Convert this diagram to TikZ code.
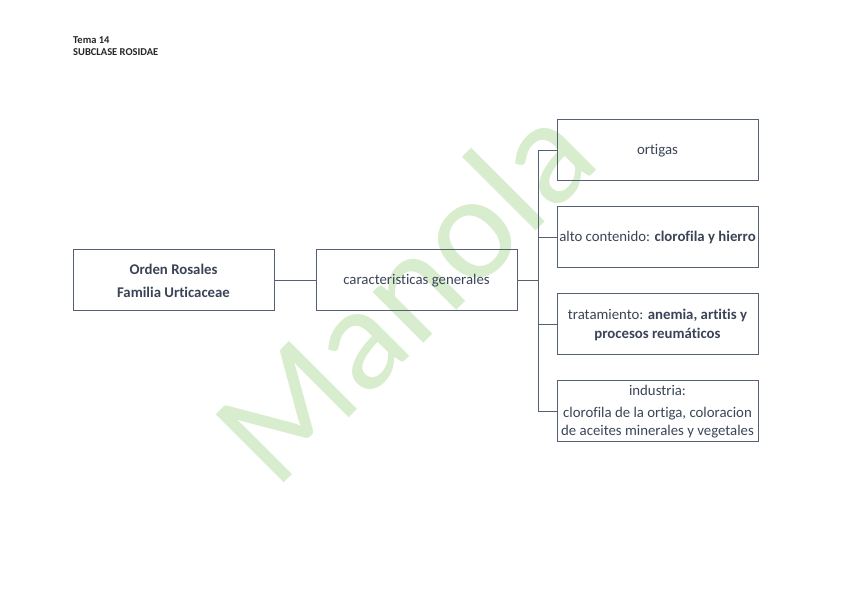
\documentclass[tikz,border=0pt]{standalone}
\usepackage{fontspec}
\setmainfont{Carlito}[Ligatures=NoCommon]
\usetikzlibrary{positioning,calc}
\definecolor{lineacol}{RGB}{84,96,116}
\definecolor{textocol}{RGB}{58,68,86}
\definecolor{marcacol}{RGB}{216,237,205}
\tikzset{
  box/.style={draw=lineacol, line width=1pt, minimum width=201pt, minimum height=61pt,
    inner sep=1pt, align=center, text=textocol, font=\fontsize{14.8}{19}\selectfont},
  rama/.style={draw=lineacol, line width=1pt},
}

\begin{document}
\begin{tikzpicture}[x=1pt, y=1pt]
\useasboundingbox (0,0) rectangle (848,599);

% marca de agua
\node[rotate=45, text=marcacol, font=\fontsize{150}{150}\selectfont] (marca) at (403,308) {Manola};

% cabecera
\node[anchor=north west, inner sep=0pt, align=left, text=black!85,
  font=\fontsize{10.5}{12.5}\selectfont\bfseries] (tema) at (73,563) {Tema 14\\SUBCLASE ROSIDAE};

\node[box] (orden) at (173.5,318.5) {\textbf{Orden Rosales}\\[4pt]\textbf{Familia Urticaceae}};
\node[box, right=41pt of orden] (carac) {caracteristicas generales};

\node[box] (ortigas) at (657.5,448.5) {ortigas};
\node[box, below=25pt of ortigas] (alto) {alto contenido: \textbf{clorofila y hierro}};
\node[box, below=25pt of alto] (trat) {tratamiento: \textbf{anemia, artitis y}\\\textbf{procesos reumáticos}};
\node[box, below=25pt of trat, font=\fontsize{14.8}{17.5}\selectfont] (indus)
  {industria:\\[5pt]clorofila de la ortiga, coloracion\\de aceites minerales y vegetales};

% conectores
\draw[rama] (orden.east) -- (carac.east -| carac.west);
\draw[rama, line width=1.4pt] (carac.east) -- ++(20.5,0) coordinate (eje);
\draw[rama] (eje |- ortigas.west) -- (eje |- indus.west);
\foreach \hoja in {ortigas,alto,trat,indus}
  \draw[rama] (eje |- \hoja.west) -- (\hoja.west);

\end{tikzpicture}
\end{document}
